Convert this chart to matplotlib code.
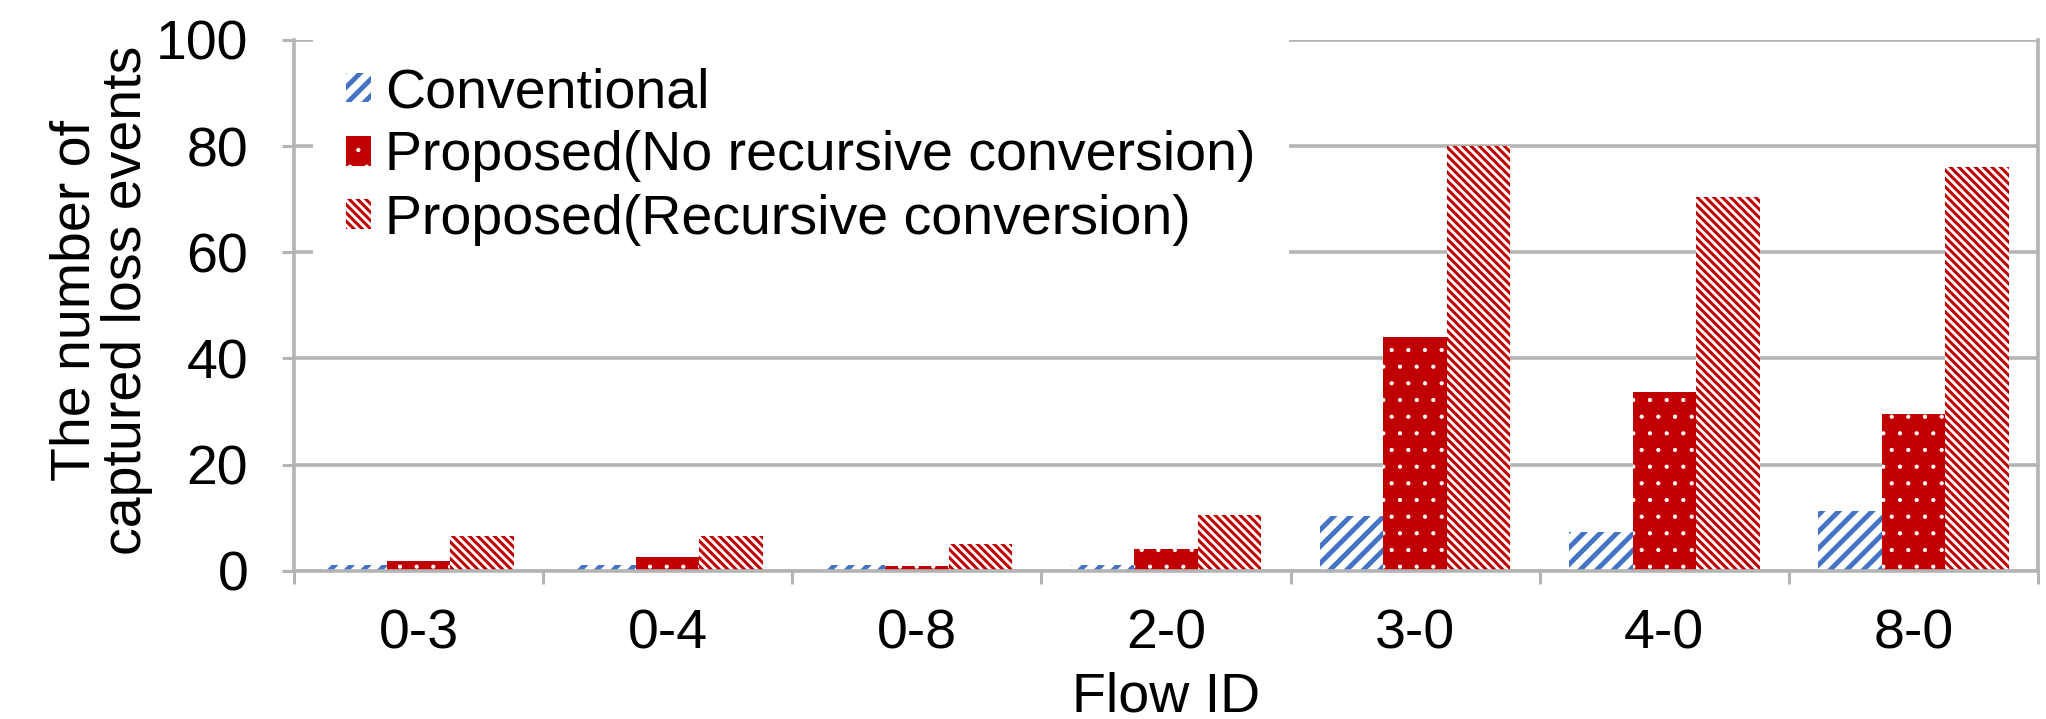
import numpy as np
import matplotlib
matplotlib.use('Agg')
import matplotlib.pyplot as plt

# data
flows = ['0-3', '0-4', '0-8', '2-0', '3-0', '4-0', '8-0']
conventional = [1.0, 1.0, 1.0, 1.0, 10.4, 7.2, 11.2]
proposed_norec = [1.8, 2.5, 0.9, 4.1, 44.0, 33.6, 29.6]
proposed_rec = [6.6, 6.6, 5.0, 10.5, 80.0, 70.5, 76.0]
series_names = ['Conventional',
                'Proposed(No recursive conversion)',
                'Proposed(Recursive conversion)']
yticks = [0, 20, 40, 60, 80, 100]

plt.rcParams['font.family'] = ['Liberation Sans', 'DejaVu Sans']
grey = '#b4b4b4'
blue = '#4472c4'
red = '#c00000'
fs = 40

fig = plt.figure(figsize=(20.46, 7.19), dpi=100)
ax = fig.add_axes([294 / 2046, 1 - 570.7 / 719, (2038 - 294) / 2046, (570.7 - 40) / 719])

x = np.arange(len(flows))
w = 0.255


def hatch_width(artist, hlw):
    if hasattr(artist, 'set_hatch_linewidth'):
        artist.set_hatch_linewidth(hlw)
    orig = artist.draw

    def draw(renderer):
        with plt.rc_context({'hatch.linewidth': hlw}):
            orig(renderer)
    artist.draw = draw


hatch_lw = [3.5, 0.6, 2.2]

b1 = ax.bar(x - w, conventional, w, color='white', edgecolor=blue, linewidth=0,
            hatch='//', label=series_names[0], zorder=2)
b2 = ax.bar(x, proposed_norec, w, color=red, edgecolor='white', linewidth=0,
            hatch='.', label=series_names[1], zorder=2)
b3 = ax.bar(x + w, proposed_rec, w, color='white', edgecolor=red, linewidth=0,
            hatch='\\\\\\\\', label=series_names[2], zorder=2)
for bars, lw in zip([b1, b2, b3], hatch_lw):
    for b in bars:
        hatch_width(b, lw)

ax.set_xlim(-0.5, len(flows) - 0.5)
ax.set_ylim(0, 100)
ax.set_yticks(yticks)
ax.set_yticklabels([str(v) for v in yticks], fontsize=fs)

# boundary ticks (major) and centred labels (minor)
ax.set_xticks(np.arange(-0.5, len(flows)))
ax.set_xticklabels([])
ax.set_xticks(x, minor=True)
ax.set_xticklabels(flows, minor=True, fontsize=fs)
ax.tick_params(axis='x', which='major', direction='out', length=9, width=2.2, color=grey)
ax.tick_params(axis='x', which='minor', length=0, pad=27)
ax.tick_params(axis='y', direction='out', length=9, width=2.2, color=grey, pad=24)

ax.grid(axis='y', color=grey, linewidth=2.6)
ax.set_axisbelow(True)
for s in ['left', 'right', 'bottom']:
    ax.spines[s].set_color(grey)
    ax.spines[s].set_linewidth(2.6)
ax.spines['top'].set_visible(False)

ax.set_xlabel('Flow ID', fontsize=fs, va='center')
ax.xaxis.set_label_coords(0.5, (570.7 - 697) / 530.7)
ax.set_ylabel('The number of\ncaptured loss events', fontsize=fs, va='center',
              ha='center', linespacing=1.0)
ax.yaxis.set_label_coords((101 - 294) / 1744, 0.51)

leg = ax.legend(loc='upper left', bbox_to_anchor=(313 / 2046, 1 - 34 / 719),
                bbox_transform=fig.transFigure, fontsize=fs, frameon=True,
                fancybox=False, edgecolor='none', facecolor='white', framealpha=1,
                handlelength=0.45, handleheight=0.45, handletextpad=0.25,
                labelspacing=0.2, borderpad=0.6, borderaxespad=0)
leg.set_zorder(3)
for h, lw in zip(leg.legend_handles, hatch_lw):
    hatch_width(h, lw)

fig.savefig('out.png', dpi=100)
